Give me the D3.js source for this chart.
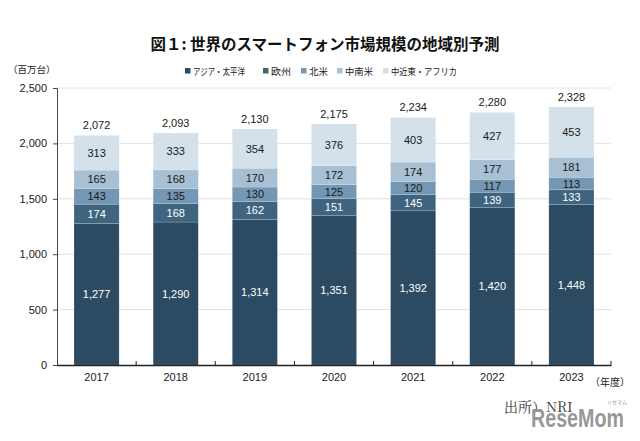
<!DOCTYPE html>
<html><head><meta charset="utf-8">
<script src="https://cdn.jsdelivr.net/npm/d3@7"></script>
<style>
html,body{margin:0;padding:0;background:#fff;}
svg{display:block;font-family:"Liberation Sans",Arial,"Noto Sans CJK JP",sans-serif;}
</style></head>
<body>
<svg id="c" width="640" height="441"></svg>
<script>
const years = ["2017","2018","2019","2020","2021","2022","2023"];
const seriesNames = ["アジア・太平洋","欧州","北米","中南米","中近東・アフリカ"];
const asiaPacific = [1277,1290,1314,1351,1392,1420,1448];
const europe = [174,168,162,151,145,139,133];
const northAmerica = [143,135,130,125,120,117,113];
const latinAmerica = [165,168,170,172,174,177,181];
const middleEastAfrica = [313,333,354,376,403,427,453];
const totals = [2072,2093,2130,2175,2234,2280,2328];
const yTicks = [0,500,1000,1500,2000,2500];
const colors = ["#2c4a61","#3e6480","#7397b4","#a8c0d3","#d4e0ea"];
const labelColors = ["#fff","#fff","#1a1a1a","#1a1a1a","#1a1a1a"];

const seriesData = [asiaPacific, europe, northAmerica, latinAmerica, middleEastAfrica];
const rows = years.map((y,i)=>{const o={year:y}; seriesNames.forEach((s,j)=>o[s]=seriesData[j][i]); return o;});
const stack = d3.stack().keys(seriesNames)(rows);

const svg = d3.select("#c");
const jp = '"Noto Sans CJK JP",sans-serif';

const x = d3.scaleBand().domain(years).range([57,611]).paddingInner(0.43).paddingOuter(0.215);
const y = d3.scaleLinear().domain([0,2500]).range([365,88]);

// gridlines
svg.append("g").selectAll("line").data(yTicks.filter(t=>t>0)).join("line")
  .attr("x1",57).attr("x2",611).attr("y1",d=>y(d)).attr("y2",d=>y(d))
  .attr("stroke","#e2e2e2").attr("stroke-width",1);

// bars
const g = svg.append("g");
stack.forEach((layer,j)=>{
  g.append("g").selectAll("rect").data(layer).join("rect")
    .attr("x",d=>x(d.data.year)).attr("width",x.bandwidth())
    .attr("y",d=>y(d[1])).attr("height",d=>y(d[0])-y(d[1]))
    .attr("fill",colors[j]).attr("stroke","rgba(255,255,255,0.25)").attr("stroke-width",0.6);
  g.append("g").selectAll("text").data(layer).join("text")
    .attr("x",d=>x(d.data.year)+x.bandwidth()/2)
    .attr("y",d=>(y(d[0])+y(d[1]))/2+4)
    .attr("text-anchor","middle").attr("font-size",11)
    .attr("fill",labelColors[j])
    .text(d=>d3.format(",")(d[1]-d[0]));
});

// totals
svg.append("g").selectAll("text").data(years).join("text")
  .attr("x",d=>x(d)+x.bandwidth()/2).attr("y",(d,i)=>y(totals[i])-6)
  .attr("text-anchor","middle").attr("font-size",11).attr("fill","#1a1a1a")
  .text((d,i)=>d3.format(",")(totals[i]));

// y axis
const yAxis = svg.append("g").attr("transform","translate(57,0)")
  .call(d3.axisLeft(y).tickValues(yTicks).tickFormat(d3.format(",")).tickSize(4).tickPadding(6));
yAxis.select(".domain").attr("stroke","#444");
yAxis.selectAll(".tick line").attr("stroke","#444");
yAxis.selectAll("text").attr("font-size",11).attr("fill","#1a1a1a").attr("font-family","Liberation Sans, Arial, sans-serif");

// x axis
const xAxis = svg.append("g").attr("transform","translate(0,365)")
  .call(d3.axisBottom(x).tickSize(0).tickPadding(8));
xAxis.select(".domain").attr("stroke","#222").attr("stroke-width",1.5);
xAxis.selectAll("text").attr("font-size",11).attr("fill","#1a1a1a").attr("font-family","Liberation Sans, Arial, sans-serif");
// separator ticks between categories
const step = x.step();
const seps = years.map((d,i)=>57+step*(i+1));
svg.append("g").selectAll("line").data(seps).join("line")
  .attr("x1",d=>d).attr("x2",d=>d).attr("y1",365).attr("y2",361)
  .attr("stroke","#222").attr("stroke-width",1);

// title
svg.append("text").attr("x",325).attr("y",50).attr("text-anchor","middle")
  .attr("font-size",15.5).attr("font-weight","bold").attr("fill","#111")
  .style("font-family",jp).text("図１: 世界のスマートフォン市場規模の地域別予測");

// unit labels
svg.append("text").attr("x",8).attr("y",73).attr("font-size",9.5).attr("fill","#222")
  .style("font-family",jp).text("（百万台）");
svg.append("text").attr("x",590).attr("y",386).attr("font-size",10).attr("fill","#222")
  .style("font-family",jp).text("（年度）");

// legend
const legendX = [185,263,301,337,383];
const legendW = [52,20,19,28,66];
const lg = svg.append("g");
seriesNames.forEach((s,j)=>{
  lg.append("rect").attr("x",legendX[j]).attr("y",68).attr("width",5.5).attr("height",5.5).attr("fill",colors[j]);
  lg.append("text").attr("x",legendX[j]+8).attr("y",74.5).attr("font-size",9.5).attr("fill","#222")
    .attr("textLength",legendW[j]).attr("lengthAdjust","spacingAndGlyphs")
    .style("font-family",jp).text(s);
});

// source
svg.append("text").attr("x",504).attr("y",412).attr("font-size",14).attr("fill","#333")
  .style("font-family",'"Noto Serif CJK JP","Liberation Serif",serif').text("出所）NRI");
// watermark
svg.append("text").attr("x",531).attr("y",427).attr("font-size",25).attr("font-weight","bold")
  .attr("fill","#8a8a8a").attr("fill-opacity",0.9).style("font-family","Liberation Sans, Arial, sans-serif")
  .attr("textLength",93).attr("lengthAdjust","spacingAndGlyphs").text("ReseMom");
svg.append("text").attr("x",607).attr("y",404).attr("font-size",5).attr("fill","#888")
  .style("font-family",jp).text("リセマム");
</script>
</body></html>
